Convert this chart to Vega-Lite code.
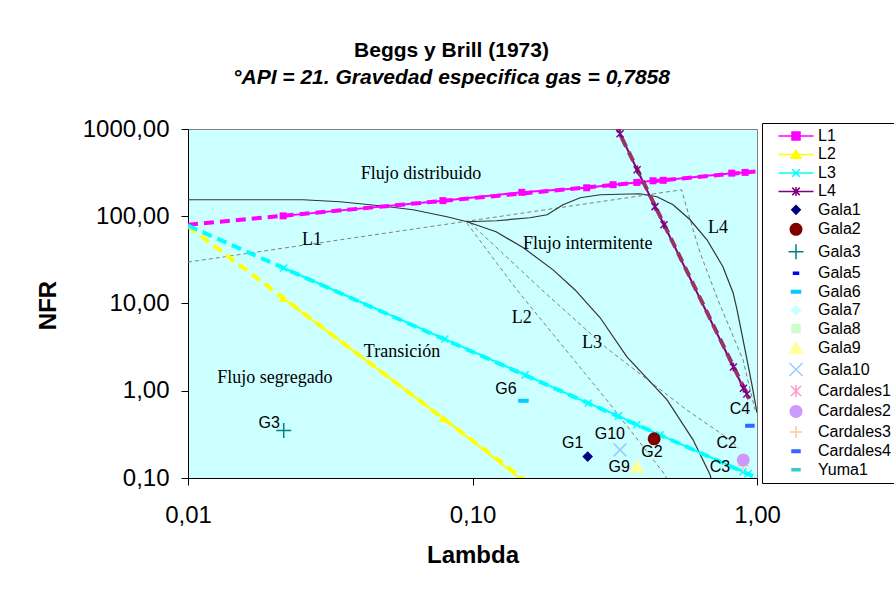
{
  "$schema": "https://vega.github.io/schema/vega-lite/v6.json",
  "autosize": {"type": "none"},
  "padding": {"left": 188, "top": 129, "right": 137, "bottom": 135},
  "width": 569,
  "height": 349,
  "background": "white",
  "title": {
    "text": "Beggs y Brill (1973)",
    "subtitle": "°API = 21. Gravedad especifica gas = 0,7858",
    "anchor": "middle", "dx": -21, "offset": 29,
    "font": "Liberation Sans", "fontSize": 21, "fontWeight": "bold", "color": "black",
    "subtitleFont": "Liberation Sans", "subtitleFontSize": 21, "subtitleFontStyle": "italic",
    "subtitleFontWeight": "bold", "subtitleColor": "black", "subtitlePadding": 6
  },
  "datasets": {
    "pts": [
      {"series": "L1", "lam": 0.0216, "nfr": 101}, {"series": "L1", "lam": 0.0787, "nfr": 151},
      {"series": "L1", "lam": 0.149, "nfr": 188}, {"series": "L1", "lam": 0.252, "nfr": 212},
      {"series": "L1", "lam": 0.312, "nfr": 230}, {"series": "L1", "lam": 0.378, "nfr": 244},
      {"series": "L1", "lam": 0.431, "nfr": 255}, {"series": "L1", "lam": 0.468, "nfr": 258},
      {"series": "L1", "lam": 0.815, "nfr": 312}, {"series": "L1", "lam": 0.908, "nfr": 318},
      {"series": "L2", "lam": 0.0216, "nfr": 11.5}, {"series": "L2", "lam": 0.0789, "nfr": 0.485},
      {"series": "L2", "lam": 0.149, "nfr": 0.095},
      {"series": "L3", "lam": 0.0217, "nfr": 25.5}, {"series": "L3", "lam": 0.080, "nfr": 3.91},
      {"series": "L3", "lam": 0.153, "nfr": 1.52}, {"series": "L3", "lam": 0.255, "nfr": 0.72},
      {"series": "L3", "lam": 0.326, "nfr": 0.515}, {"series": "L3", "lam": 0.378, "nfr": 0.407},
      {"series": "L3", "lam": 0.456, "nfr": 0.312}, {"series": "L3", "lam": 0.893, "nfr": 0.118},
      {"series": "L3", "lam": 0.93, "nfr": 0.112},
      {"series": "L4", "lam": 0.330, "nfr": 884}, {"series": "L4", "lam": 0.379, "nfr": 341},
      {"series": "L4", "lam": 0.438, "nfr": 129}, {"series": "L4", "lam": 0.471, "nfr": 80},
      {"series": "L4", "lam": 0.826, "nfr": 1.87}, {"series": "L4", "lam": 0.896, "nfr": 1.07},
      {"series": "L4", "lam": 0.921, "nfr": 0.92},
      {"series": "Gala1", "lam": 0.254, "nfr": 0.176},
      {"series": "Gala2", "lam": 0.435, "nfr": 0.281},
      {"series": "Gala3", "lam": 0.0217, "nfr": 0.350},
      {"series": "Gala6", "lam": 0.151, "nfr": 0.766},
      {"series": "Gala9", "lam": 0.378, "nfr": 0.135},
      {"series": "Gala10", "lam": 0.330, "nfr": 0.210},
      {"series": "Cardales3", "lam": 0.893, "nfr": 0.138},
      {"series": "Cardales2", "lam": 0.895, "nfr": 0.161},
      {"series": "Cardales4", "lam": 0.944, "nfr": 0.396}
    ],
    "trends": [
      {"series": "T1", "lam": 0.01, "nfr": 80}, {"series": "T1", "lam": 1.0, "nfr": 326},
      {"series": "T2", "lam": 0.01, "nfr": 77}, {"series": "T2", "lam": 0.17, "nfr": 0.073},
      {"series": "T3", "lam": 0.01, "nfr": 78}, {"series": "T3", "lam": 1.0, "nfr": 0.1},
      {"series": "T4", "lam": 0.316, "nfr": 1164}, {"series": "T4", "lam": 0.94, "nfr": 0.805}
    ],
    "curves": [
      {"id": "A", "ord": 1, "lam": 0.01, "nfr": 154.5}, {"id": "A", "ord": 2, "lam": 0.02535, "nfr": 154.5},
      {"id": "A", "ord": 3, "lam": 0.0342, "nfr": 146.6}, {"id": "A", "ord": 4, "lam": 0.0473, "nfr": 131.9},
      {"id": "A", "ord": 5, "lam": 0.0618, "nfr": 118.8}, {"id": "A", "ord": 6, "lam": 0.0813, "nfr": 98.7},
      {"id": "A", "ord": 7, "lam": 0.0957, "nfr": 86.5}, {"id": "A", "ord": 8, "lam": 0.121, "nfr": 66.4},
      {"id": "A", "ord": 9, "lam": 0.151, "nfr": 43.5}, {"id": "A", "ord": 10, "lam": 0.192, "nfr": 24.3},
      {"id": "A", "ord": 11, "lam": 0.229, "nfr": 14.4}, {"id": "A", "ord": 12, "lam": 0.281, "nfr": 6.86},
      {"id": "A", "ord": 13, "lam": 0.349, "nfr": 2.45}, {"id": "A", "ord": 14, "lam": 0.483, "nfr": 0.787},
      {"id": "A", "ord": 15, "lam": 0.596, "nfr": 0.274}, {"id": "A", "ord": 16, "lam": 0.684, "nfr": 0.1087},
      {"id": "A", "ord": 17, "lam": 0.689, "nfr": 0.1},
      {"id": "B", "ord": 1, "lam": 0.0957, "nfr": 86.5}, {"id": "B", "ord": 2, "lam": 0.1216, "nfr": 88.8},
      {"id": "B", "ord": 3, "lam": 0.159, "nfr": 96.1}, {"id": "B", "ord": 4, "lam": 0.183, "nfr": 104},
      {"id": "B", "ord": 5, "lam": 0.208, "nfr": 135.5}, {"id": "B", "ord": 6, "lam": 0.239, "nfr": 163},
      {"id": "B", "ord": 7, "lam": 0.281, "nfr": 176.4}, {"id": "B", "ord": 8, "lam": 0.388, "nfr": 181},
      {"id": "B", "ord": 9, "lam": 0.445, "nfr": 167.4}, {"id": "B", "ord": 10, "lam": 0.507, "nfr": 135.5},
      {"id": "B", "ord": 11, "lam": 0.582, "nfr": 91.2}, {"id": "B", "ord": 12, "lam": 0.667, "nfr": 53.8},
      {"id": "B", "ord": 13, "lam": 0.759, "nfr": 26.4}, {"id": "B", "ord": 14, "lam": 0.824, "nfr": 13.3},
      {"id": "B", "ord": 15, "lam": 0.851, "nfr": 8.47}, {"id": "B", "ord": 16, "lam": 0.908, "nfr": 2.94},
      {"id": "B", "ord": 17, "lam": 0.960, "nfr": 1.17}, {"id": "B", "ord": 18, "lam": 1.0, "nfr": 0.558}
    ],
    "bounds": [
      {"id": "L1L4", "ord": 1, "lam": 0.01, "nfr": 29.8}, {"id": "L1L4", "ord": 2, "lam": 0.543, "nfr": 201},
      {"id": "L1L4", "ord": 3, "lam": 0.582, "nfr": 91.2}, {"id": "L1L4", "ord": 4, "lam": 0.631, "nfr": 38.1},
      {"id": "L1L4", "ord": 5, "lam": 0.729, "nfr": 11.0}, {"id": "L1L4", "ord": 6, "lam": 0.893, "nfr": 2.26},
      {"id": "L1L4", "ord": 7, "lam": 0.984, "nfr": 0.604},
      {"id": "L2", "ord": 1, "lam": 0.0955, "nfr": 83.6}, {"id": "L2", "ord": 2, "lam": 0.143, "nfr": 14.4},
      {"id": "L2", "ord": 3, "lam": 0.296, "nfr": 0.787}, {"id": "L2", "ord": 4, "lam": 0.475, "nfr": 0.1087},
      {"id": "L2", "ord": 5, "lam": 0.48, "nfr": 0.1},
      {"id": "L3", "ord": 1, "lam": 0.098, "nfr": 84.2}, {"id": "L3", "ord": 2, "lam": 0.175, "nfr": 14.4},
      {"id": "L3", "ord": 3, "lam": 0.296, "nfr": 3.08}, {"id": "L3", "ord": 4, "lam": 0.566, "nfr": 0.604},
      {"id": "L3", "ord": 5, "lam": 0.804, "nfr": 0.274}, {"id": "L3", "ord": 6, "lam": 0.86, "nfr": 0.22}
    ],
    "rlabels": [
      {"text": "Flujo distribuido", "lam": 0.0659, "nfr": 307},
      {"text": "L1", "lam": 0.0273, "nfr": 53.8},
      {"text": "Flujo intermitente", "lam": 0.254, "nfr": 48.4},
      {"text": "L4", "lam": 0.729, "nfr": 73.8},
      {"text": "L2", "lam": 0.149, "nfr": 6.86},
      {"text": "L3", "lam": 0.263, "nfr": 3.54},
      {"text": "Transición", "lam": 0.0565, "nfr": 2.79},
      {"text": "Flujo segregado", "lam": 0.0202, "nfr": 1.41}
    ],
    "plabels": [
      {"text": "G3", "lam": 0.0193, "nfr": 0.432},
      {"text": "G6", "lam": 0.131, "nfr": 1.04},
      {"text": "G1", "lam": 0.225, "nfr": 0.251},
      {"text": "G10", "lam": 0.304, "nfr": 0.321},
      {"text": "G2", "lam": 0.427, "nfr": 0.201},
      {"text": "G9", "lam": 0.328, "nfr": 0.135},
      {"text": "C2", "lam": 0.782, "nfr": 0.251},
      {"text": "C3", "lam": 0.741, "nfr": 0.135},
      {"text": "C4", "lam": 0.871, "nfr": 0.615}
    ]
  },
  "encoding": {
    "x": {
      "field": "lam", "type": "quantitative",
      "scale": {"type": "log", "domain": [0.01, 1], "nice": false},
      "axis": {
        "title": "Lambda", "values": [0.01, 0.1, 1],
        "labelExpr": "replace(format(datum.value, '.2f'), '.', ',')",
        "grid": false, "tickSize": 7, "tickColor": "black", "domainColor": "black",
        "labelFont": "Liberation Sans", "labelFontSize": 24, "labelColor": "black", "labelPadding": 18,
        "labelFlush": false, "labelOverlap": false,
        "titleFont": "Liberation Sans", "titleFontSize": 24, "titleFontWeight": "bold", "titleColor": "black",
        "titleY": 84, "titleBaseline": "alphabetic"
      }
    },
    "y": {
      "field": "nfr", "type": "quantitative",
      "scale": {"type": "log", "domain": [0.1, 1000], "nice": false},
      "axis": {
        "title": "NFR", "values": [0.1, 1, 10, 100, 1000],
        "labelExpr": "replace(format(datum.value, '.2f'), '.', ',')",
        "grid": false, "tickSize": 7, "tickColor": "black", "domainColor": "black",
        "labelFont": "Liberation Sans", "labelFontSize": 24, "labelColor": "black", "labelPadding": 12,
        "labelFlush": false, "labelOverlap": false,
        "titleFont": "Liberation Sans", "titleFontSize": 24, "titleFontWeight": "bold", "titleColor": "black",
        "titleX": -133, "titleY": 176, "titleAngle": -90, "titleBaseline": "alphabetic"
      }
    }
  },
  "layer": [
    {
      "data": {"name": "bounds"},
      "mark": {"type": "line", "color": "#808080", "strokeWidth": 1, "strokeDash": [4, 3], "clip": true},
      "encoding": {"detail": {"field": "id"}, "order": {"field": "ord", "type": "quantitative"}}
    },
    {
      "data": {"name": "curves"},
      "mark": {"type": "line", "color": "#333333", "strokeWidth": 1.2, "clip": true},
      "encoding": {"detail": {"field": "id"}, "order": {"field": "ord", "type": "quantitative"}}
    },
    {
      "data": {"name": "rlabels"},
      "mark": {"type": "text", "font": "Liberation Serif", "fontSize": 18, "color": "black", "align": "center", "baseline": "middle"},
      "encoding": {"text": {"field": "text"}}
    },
    {
      "data": {"name": "pts"},
      "transform": [{"filter": "indexof(['L1','L2','L3','L4'], datum.series) >= 0"}],
      "mark": {"type": "line", "strokeWidth": 2, "clip": true},
      "encoding": {
        "color": {"field": "series", "type": "nominal", "legend": null,
          "scale": {"domain": ["L1","L2","L3","L4","T1","T2","T3","T4"],
                    "range": ["#FF00FF","#FFFF00","#00FFFF","#800080","#FF00FF","#FFFF00","#00FFFF","#993366"]}}
      }
    },
    {
      "data": {"name": "trends"},
      "mark": {"type": "line", "strokeWidth": 4, "strokeDash": [10, 6], "clip": true},
      "encoding": {
        "color": {"field": "series", "type": "nominal", "legend": null}
      }
    },
    {
      "data": {"name": "pts"},
      "transform": [{"filter": "datum.series == 'L1'"}],
      "mark": {"type": "point", "shape": "square", "size": 49, "filled": true, "color": "#FF00FF", "opacity": 1, "clip": true}
    },
    {
      "data": {"name": "pts"},
      "transform": [{"filter": "datum.series == 'L2'"}],
      "mark": {"type": "point", "shape": "triangle-up", "size": 81, "filled": true, "color": "#FFFF00", "opacity": 1, "clip": true}
    },
    {
      "data": {"name": "pts"},
      "transform": [{"filter": "datum.series == 'L3'"}],
      "mark": {"type": "point", "shape": "M-1,-1L1,1M-1,1L1,-1", "size": 49, "filled": false, "color": "#00FFFF", "strokeWidth": 1.5, "opacity": 1, "clip": true}
    },
    {
      "data": {"name": "pts"},
      "transform": [{"filter": "datum.series == 'L4'"}],
      "mark": {"type": "point", "shape": "M-1,-1L1,1M-1,1L1,-1M0,-1.2V1.2", "size": 49, "filled": false, "color": "#800080", "strokeWidth": 1.5, "opacity": 1, "clip": true}
    },
    {
      "data": {"name": "pts"},
      "transform": [{"filter": "indexof(['L1','L2','L3','L4'], datum.series) < 0"}],
      "mark": {"type": "point", "filled": true, "size": 100, "strokeWidth": 1.5, "opacity": 1},
      "encoding": {
        "fill": {"field": "series", "type": "nominal", "legend": {"title": null},
          "scale": {"domain": ["L1","L2","L3","L4","Gala1","Gala2","Gala3","Gala5","Gala6","Gala7","Gala8","Gala9","Gala10","Cardales1","Cardales2","Cardales3","Cardales4","Yuma1"],
                    "range": ["#FF00FF","#FFFF00","#00FFFF","#800080","#000080","#800000","#008080","#0000FF","#00CCFF","#CCFFFF","#CCFFCC","#FFFF99","#99CCFF","#FF99CC","#CC99FF","#FFCC99","#3366FF","#33CCCC"]}},
        "stroke": {"field": "series", "type": "nominal", "legend": {"title": null},
          "scale": {"domain": ["L1","L2","L3","L4","Gala1","Gala2","Gala3","Gala5","Gala6","Gala7","Gala8","Gala9","Gala10","Cardales1","Cardales2","Cardales3","Cardales4","Yuma1"],
                    "range": ["#FF00FF","#FFFF00","#00FFFF","#800080","#000080","#800000","#008080","#0000FF","#00CCFF","#CCFFFF","#CCFFCC","#FFFF99","#99CCFF","#FF99CC","#CC99FF","#FFCC99","#3366FF","#33CCCC"]}},
        "shape": {"field": "series", "type": "nominal", "legend": {"title": null},
          "scale": {"domain": ["L1","L2","L3","L4","Gala1","Gala2","Gala3","Gala5","Gala6","Gala7","Gala8","Gala9","Gala10","Cardales1","Cardales2","Cardales3","Cardales4","Yuma1"],
                    "range": [
                      "M-3.5,0H3.5M-0.8,-0.8H0.8V0.8H-0.8Z",
                      "M-3.5,0H3.5M0,-0.85L0.95,0.75H-0.95Z",
                      "M-3.5,0H3.5M-0.75,-0.75L0.75,0.75M-0.75,0.75L0.75,-0.75",
                      "M-3.5,0H3.5M-0.75,-0.75L0.75,0.75M-0.75,0.75L0.75,-0.75M0,-0.9V0.9",
                      "M0,-0.85L0.85,0L0,0.85L-0.85,0Z",
                      "M-1.15,0A1.15,1.15,0,1,1,1.15,0A1.15,1.15,0,1,1,-1.15,0Z",
                      "M-1.5,0H1.5M0,-1.5V1.5",
                      "M-0.5,-0.2H0.5V0.2H-0.5Z",
                      "M-0.9,-0.25H0.9V0.25H-0.9Z",
                      "M0,-0.9L0.9,0L0,0.9L-0.9,0Z",
                      "M-0.8,-0.8H0.8V0.8H-0.8Z",
                      "M0,-1.15L1.3,1.05H-1.3Z",
                      "M-1.3,-1.3L1.3,1.3M-1.3,1.3L1.3,-1.3",
                      "M-1,-1L1,1M-1,1L1,-1M0,-1.2V1.2",
                      "M-1.15,0A1.15,1.15,0,1,1,1.15,0A1.15,1.15,0,1,1,-1.15,0Z",
                      "M-1.2,0H1.2M0,-1.2V1.2",
                      "M-0.8,-0.25H0.8V0.25H-0.8Z",
                      "M-0.8,-0.2H0.8V0.2H-0.8Z"
                    ]}}
      }
    },
    {
      "data": {"name": "plabels"},
      "mark": {"type": "text", "font": "Liberation Sans", "fontSize": 16, "color": "black", "align": "center", "baseline": "middle"},
      "encoding": {"text": {"field": "text"}}
    }
  ],
  "config": {
    "view": {"fill": "#CCFFFF", "stroke": "#808080", "strokeWidth": 1},
    "legend": {
      "orient": "none", "legendX": 574, "legendY": -6, "padding": 5,
      "strokeColor": "black", "fillColor": "white", "strokeWidth": 1,
      "labelFont": "Liberation Sans", "labelFontSize": 16, "labelColor": "black", "labelLimit": 200,
      "rowPadding": 2.46, "symbolOffset": 21, "labelOffset": 14, "symbolStrokeWidth": 1.5,
      "symbolLimit": 50
    }
  }
}
